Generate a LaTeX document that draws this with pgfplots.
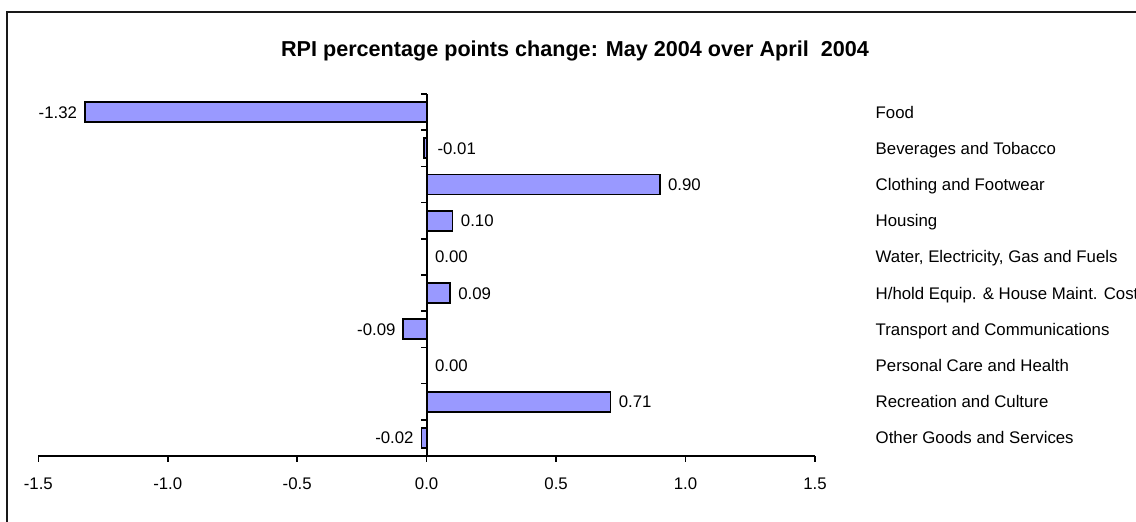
\documentclass[border=0pt]{standalone}
\usepackage{fontspec}
\setmainfont{Liberation Sans}
\usepackage{pgfplots}
\usepackage{pgfplotstable}
\pgfplotsset{compat=1.18}
\definecolor{barfill}{HTML}{9999FF}
% values labelled to the right of the bar end
\pgfplotstableread{
y x label
7 0.90 0.90
6 0.10 0.10
5 0.00 0.00
4 0.09 0.09
2 0.00 0.00
1 0.71 0.71
}\rightdata
% small negative value whose label sits right of the axis
\pgfplotstableread{
y x label
8 -0.01 -0.01
}\bevdata
% values labelled to the left of the bar end
\pgfplotstableread{
y x label
9 -1.32 -1.32
3 -0.09 -0.09
0 -0.02 -0.02
}\leftdata
\newcommand{\lblfont}{\fontsize{16.8bp}{20bp}\selectfont}
\begin{document}
\begin{tikzpicture}
\useasboundingbox (0,0) rectangle (1136bp,522bp);
% frame (left and top edges visible)
\draw[line width=1.7bp, black!90] (7bp,0) -- (7bp,510bp) -- (1136bp,510bp);
% title
\node[font=\fontsize{21.6bp}{25bp}\selectfont\bfseries, anchor=base] at (575bp,465bp)
  {RPI percentage points change: May 2004 over April \ 2004};
\begin{axis}[
  scale only axis,
  width=776.7bp, height=362bp,
  at={(38.3bp,66bp)}, anchor=south west,
  xmin=-1.5, xmax=1.5,
  ymin=-0.5, ymax=9.5,
  axis x line*=bottom,
  axis y line*=right,
  y axis line style={draw=none},
  x axis line style={line width=1.8bp, -},
  xtick={-1.5,-1,-0.5,0,0.5,1,1.5},
  xticklabels={-1.5,-1.0,-0.5,0.0,0.5,1.0,1.5},
  xtick style={line width=1.5bp, black},
  tick align=outside,
  major tick length=5.5bp,
  xticklabel style={font=\lblfont, anchor=base, inner sep=0pt, yshift=-28bp},
  ytick={0,...,9},
  yticklabels={Other Goods and Services, Recreation and Culture, Personal Care and Health, Transport and Communications, {H/hold Equip. \& House Maint. Costs}, {Water, Electricity, Gas and Fuels}, Housing, Clothing and Footwear, Beverages and Tobacco, Food},
  ytick style={draw=none},
  yticklabel style={font=\lblfont, anchor=base west, inner sep=0pt, xshift=55bp, yshift=-6bp},
  xbar,
  bar width=0.55,
  bar shift=0pt,
  clip=false,
  every axis plot/.append style={draw=black, line width=1.8bp, fill=barfill},
  point meta=explicit symbolic,
  nodes near coords,
]
\addplot[nodes near coords style={font=\lblfont, inner sep=0pt, anchor=base west, xshift=7.5bp, yshift=-6bp, black}]
  table[x=x, y=y, meta=label] {\rightdata};
\addplot[nodes near coords style={font=\lblfont, inner sep=0pt, anchor=base west, xshift=12.6bp, yshift=-6bp, black}]
  table[x=x, y=y, meta=label] {\bevdata};
\addplot[nodes near coords style={font=\lblfont, inner sep=0pt, anchor=base east, xshift=-7bp, yshift=-6bp, black}]
  table[x=x, y=y, meta=label] {\leftdata};
% vertical axis at zero with boundary ticks
\draw[line width=1.8bp] (axis cs:0,-0.5) -- (axis cs:0,9.5);
\pgfplotsinvokeforeach{0.5,1.5,2.5,3.5,4.5,5.5,6.5,7.5,8.5,9.5}{
  \draw[line width=1.5bp] (axis cs:0,#1) -- ([xshift=-6bp]axis cs:0,#1);
}
\end{axis}
\end{tikzpicture}
\end{document}
